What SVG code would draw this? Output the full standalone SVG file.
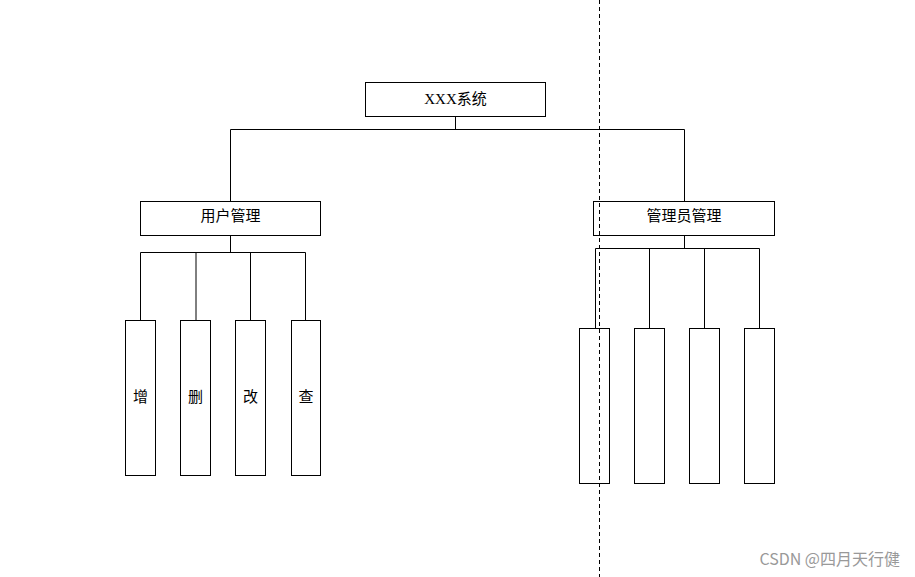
<svg xmlns="http://www.w3.org/2000/svg" width="915" height="577" viewBox="0 0 915 577">
<style>
.b{fill:#fff;stroke:#000;stroke-width:1}
.t{font-family:"Noto Sans CJK SC","Liberation Sans",sans-serif;font-size:15px;text-anchor:middle;fill:#000}
.c{fill:none;stroke:#000;stroke-width:1}
</style>
<rect width="915" height="577" fill="#fff"/>
<g id="connectors">
<path class="c" d="M455.5 116V129.5M230.5 129.5H684.5M230.5 129.5V201M684.5 129.5V201"/>
<path class="c" d="M230.5 235V252.5M140.5 252.5H305.5M140.5 252.5V320M196 252.5V320M250.5 252.5V320M305.5 252.5V320"/>
<path class="c" d="M684.5 235V248.5M595.5 248.5H759.5M595.5 248.5V328M649.5 248.5V328M704.5 248.5V328M759.5 248.5V328"/>
</g>
<g id="root"><rect class="b" x="365.5" y="82.5" width="180" height="34"/><text class="t" x="455.5" y="104" style="font-family:'Liberation Serif','Noto Sans CJK SC',serif">XXX系统</text></g>
<g id="user"><rect class="b" x="140.5" y="201.5" width="180" height="34"/><text class="t" x="230.5" y="221">用户管理</text></g>
<g id="admin"><rect class="b" x="593.5" y="201.5" width="181" height="34"/><text class="t" x="684" y="221">管理员管理</text></g>
<g id="add"><rect class="b" x="125.5" y="320.5" width="30" height="155"/><text class="t" x="140.5" y="402">增</text></g>
<g id="del"><rect class="b" x="180.5" y="320.5" width="30" height="155"/><text class="t" x="195.5" y="402">删</text></g>
<g id="mod"><rect class="b" x="235.5" y="320.5" width="30" height="155"/><text class="t" x="250.5" y="402">改</text></g>
<g id="qry"><rect class="b" x="291.5" y="320.5" width="29" height="155"/><text class="t" x="306" y="402">查</text></g>
<g id="a1"><rect class="b" x="579.5" y="328.5" width="30" height="155"/></g>
<g id="a2"><rect class="b" x="634.5" y="328.5" width="30" height="155"/></g>
<g id="a3"><rect class="b" x="689.5" y="328.5" width="30" height="155"/></g>
<g id="a4"><rect class="b" x="744.5" y="328.5" width="30" height="155"/></g>
<line x1="599.5" y1="0" x2="599.5" y2="577" stroke="#000" stroke-dasharray="4,3"/>
<text x="900" y="565" style="font-family:'Noto Sans CJK SC',sans-serif;font-size:16px;text-anchor:end;fill:#999">CSDN @四月天行健</text>
</svg>
